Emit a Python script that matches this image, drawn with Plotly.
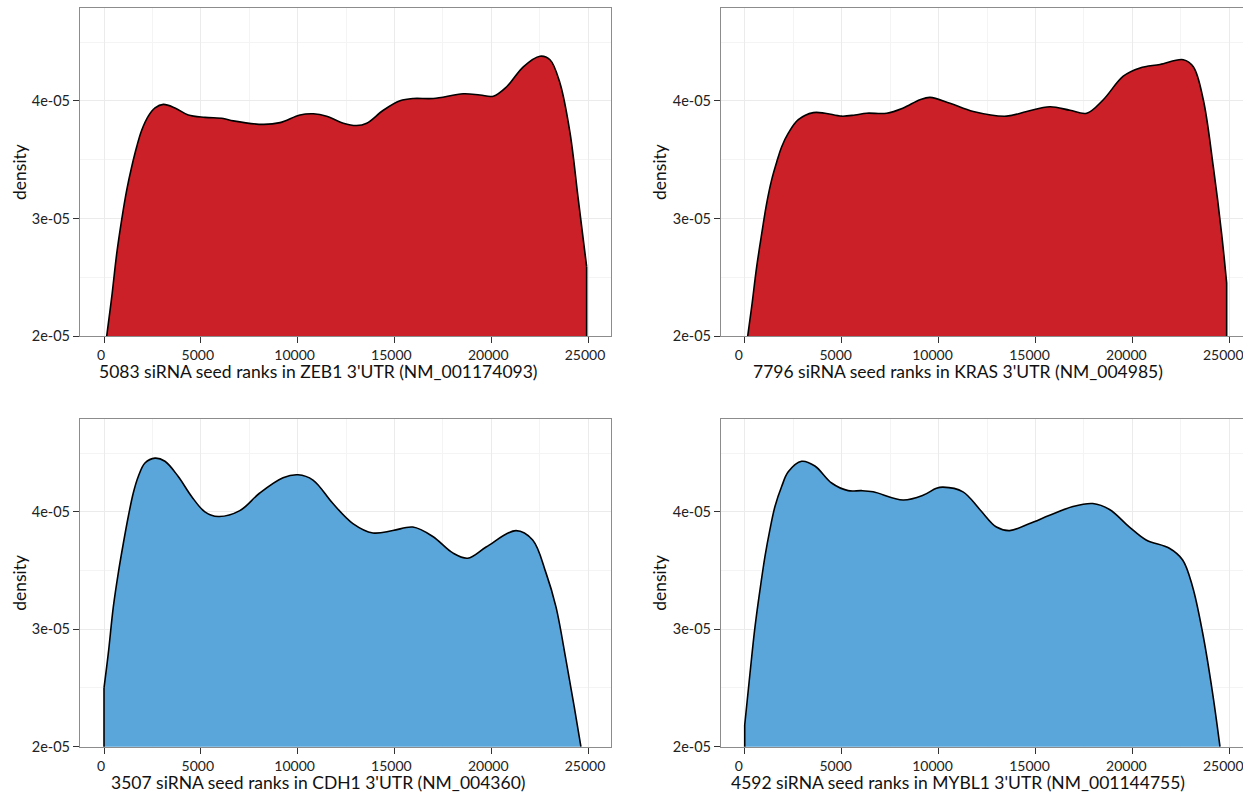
import plotly.graph_objects as go

# ---------------- data ----------------
zeb1_x = [139, 398, 656, 914, 1172, 1431, 1689, 1947, 2288, 2634, 3063, 3667, 4354, 5217, 6162, 6680,
          8230, 9091, 10124, 10812, 11502, 12363, 13051, 13568, 14428, 15289, 15977, 17009, 18560,
          19421, 20110, 20798, 21658, 22521, 23037, 23554, 24070, 24500, 24930]
zeb1_y = [2.00e-05, 2.33e-05, 2.70e-05, 2.99e-05, 3.24e-05, 3.44e-05, 3.61e-05, 3.75e-05, 3.87e-05,
          3.94e-05, 3.97e-05, 3.94e-05, 3.88e-05, 3.86e-05, 3.85e-05, 3.83e-05, 3.80e-05, 3.815e-05,
          3.88e-05, 3.89e-05, 3.87e-05, 3.81e-05, 3.79e-05, 3.81e-05, 3.92e-05, 4.00e-05, 4.02e-05,
          4.02e-05, 4.06e-05, 4.05e-05, 4.04e-05, 4.12e-05, 4.29e-05, 4.38e-05, 4.35e-05, 4.15e-05,
          3.73e-05, 3.16e-05, 2.59e-05]

kras_x = [155, 361, 619, 877, 1135, 1393, 1651, 1909, 2249, 2765, 3539, 4143, 5004, 5690, 6294, 7326,
          8182, 9044, 9560, 10591, 11793, 13517, 14548, 15750, 16782, 17643, 18499, 19530, 20393,
          21424, 22627, 23143, 23659, 24175, 24605, 24864]
kras_y = [2.00e-05, 2.25e-05, 2.59e-05, 2.87e-05, 3.13e-05, 3.33e-05, 3.48e-05, 3.61e-05, 3.725e-05,
          3.84e-05, 3.90e-05, 3.895e-05, 3.87e-05, 3.88e-05, 3.895e-05, 3.895e-05, 3.94e-05, 4.01e-05,
          4.03e-05, 3.98e-05, 3.91e-05, 3.87e-05, 3.91e-05, 3.95e-05, 3.92e-05, 3.895e-05, 4.01e-05,
          4.21e-05, 4.28e-05, 4.31e-05, 4.35e-05, 4.29e-05, 4.01e-05, 3.44e-05, 2.87e-05, 2.45e-05]

cdh1_x = [0, 223, 481, 739, 997, 1255, 1512, 1771, 2115, 2632, 3148, 3834, 4525, 5211, 5898, 7015,
          8046, 9248, 10024, 10795, 11826, 12857, 13889, 14920, 15952, 16983, 18014, 18787, 19737,
          21284, 22142, 22830, 23346, 23862, 24290, 24634]
cdh1_y = [2.50e-05, 2.796e-05, 3.19e-05, 3.48e-05, 3.73e-05, 3.96e-05, 4.16e-05, 4.30e-05, 4.415e-05,
          4.457e-05, 4.43e-05, 4.30e-05, 4.13e-05, 4.00e-05, 3.96e-05, 4.01e-05, 4.16e-05, 4.29e-05,
          4.315e-05, 4.27e-05, 4.07e-05, 3.90e-05, 3.82e-05, 3.84e-05, 3.87e-05, 3.79e-05, 3.65e-05,
          3.605e-05, 3.70e-05, 3.84e-05, 3.76e-05, 3.48e-05, 3.19e-05, 2.74e-05, 2.34e-05, 2.00e-05]

mybl1_x = [0, 273, 531, 788, 1046, 1303, 1561, 1906, 2246, 2936, 3621, 4482, 5337, 6027, 6625, 8170,
           9200, 9890, 10231, 11261, 12126, 12987, 13671, 14701, 15731, 16934, 17958, 18820, 19850,
           20710, 21908, 22594, 23109, 23624, 24140, 24520]
mybl1_y = [2.185e-05, 2.625e-05, 3.02e-05, 3.335e-05, 3.62e-05, 3.85e-05, 4.045e-05, 4.215e-05,
           4.34e-05, 4.43e-05, 4.39e-05, 4.245e-05, 4.18e-05, 4.18e-05, 4.17e-05, 4.10e-05, 4.14e-05,
           4.20e-05, 4.21e-05, 4.17e-05, 4.02e-05, 3.87e-05, 3.84e-05, 3.90e-05, 3.97e-05, 4.045e-05,
           4.07e-05, 4.02e-05, 3.87e-05, 3.76e-05, 3.69e-05, 3.59e-05, 3.36e-05, 2.97e-05, 2.455e-05,
           2.00e-05]

x_titles = ["5083 siRNA seed ranks in ZEB1 3'UTR (NM_001174093)",
            "7796 siRNA seed ranks in KRAS 3'UTR (NM_004985)",
            "3507 siRNA seed ranks in CDH1 3'UTR (NM_004360)",
            "4592 siRNA seed ranks in MYBL1 3'UTR (NM_001144755)"]
y_title = "density"

x_tickvals = [0, 5000, 10000, 15000, 20000, 25000]
x_ticktext = ["0", "5000", "10000", "15000", "20000", "25000"]
x_minorvals = [2500, 7500, 12500, 17500, 22500]
y_tickvals = [2e-05, 3e-05, 4e-05]
y_ticktext = ["2e-05", "3e-05", "4e-05"]
y_minorvals = [2.5e-05, 3.5e-05, 4.5e-05]

RED = "#CB2027"
BLUE = "#5AA6DB"

# ---------------- layout geometry ----------------
W, H = 1243, 795
FONT = "Lato"

panels = [
    dict(x=zeb1_x, y=zeb1_y, color=RED, xdom=[80 / W, 611 / W], ydom=[1 - 336 / H, 1 - 8 / H],
         xr=[-1240, 26188], right=True, tx=318, ty=371.5, yx=20, shift=-3),
    dict(x=kras_x, y=kras_y, color=RED, xdom=[721 / W, 1.0], ydom=[1 - 336 / H, 1 - 8 / H],
         xr=[-1223, 25707], right=False, tx=958, ty=371.5, yx=660, shift=-6),
    dict(x=cdh1_x, y=cdh1_y, color=BLUE, xdom=[80 / W, 611 / W], ydom=[1 - 746.7 / H, 1 - 419 / H],
         xr=[-1240, 26188], right=True, tx=318, ty=782, yx=20, shift=-3),
    dict(x=mybl1_x, y=mybl1_y, color=BLUE, xdom=[721 / W, 1.0], ydom=[1 - 746.7 / H, 1 - 419 / H],
         xr=[-1223, 25707], right=False, tx=958, ty=782, yx=660, shift=-6),
]

fig = go.Figure()
layout = dict(width=W, height=H, margin=dict(l=0, r=0, t=0, b=0, pad=0, autoexpand=False),
              paper_bgcolor="white", plot_bgcolor="white", showlegend=False,
              font=dict(family=FONT, color="#222"))
annotations = []

for i, p in enumerate(panels):
    n = "" if i == 0 else str(i + 1)
    xa, ya = "x" + n, "y" + n
    fig.add_trace(go.Scatter(x=p["x"], y=p["y"], xaxis=xa, yaxis=ya, mode="lines",
                             line=dict(color="black", width=1.6, shape="spline", smoothing=1.0),
                             fill="tozeroy", fillcolor=p["color"], hoverinfo="skip"))
    # vertical outline at both ends of the density polygon
    for k in (0, -1):
        fig.add_trace(go.Scatter(x=[p["x"][k], p["x"][k]], y=[0, p["y"][k]], xaxis=xa, yaxis=ya,
                                 mode="lines", line=dict(color="black", width=1.6), hoverinfo="skip"))
    layout["xaxis" + n] = dict(
        domain=p["xdom"], range=p["xr"], anchor=ya, automargin=False,
        tickmode="array", tickvals=x_tickvals, ticktext=x_ticktext, ticklabeloverflow="allow",
        ticklabelshift=p["shift"],
        ticks="outside", ticklen=6, tickwidth=1.3, tickcolor="#333",
        tickfont=dict(family=FONT, size=14, color="#222"),
        showgrid=True, gridcolor="#EBEBEB", gridwidth=1,
        minor=dict(tickmode="array", tickvals=x_minorvals, showgrid=True, gridcolor="#F4F4F4", gridwidth=1),
        showline=True, linecolor="#8C8C8C", linewidth=1.2, mirror=True, zeroline=False,
    )
    layout["yaxis" + n] = dict(
        domain=p["ydom"], range=[2e-05, 4.79e-05], anchor=xa, automargin=False,
        tickmode="array", tickvals=y_tickvals, ticktext=y_ticktext,
        ticks="outside", ticklen=6, tickwidth=1.3, tickcolor="#333",
        tickfont=dict(family=FONT, size=14.5, color="#222"),
        showgrid=True, gridcolor="#EBEBEB", gridwidth=1,
        minor=dict(tickmode="array", tickvals=y_minorvals, showgrid=True, gridcolor="#F4F4F4", gridwidth=1),
        showline=True, linecolor="#8C8C8C", linewidth=1.2, mirror=p["right"], zeroline=False,
    )
    annotations.append(dict(text=x_titles[i], x=p["tx"] / W, y=1 - p["ty"] / H, xref="paper", yref="paper",
                            xanchor="center", yanchor="middle", showarrow=False,
                            font=dict(family=FONT, size=17.5, color="#111")))
    annotations.append(dict(text=y_title, x=p["yx"] / W, y=(p["ydom"][0] + p["ydom"][1]) / 2,
                            xref="paper", yref="paper", xanchor="center", yanchor="middle",
                            textangle=-90, showarrow=False, font=dict(family=FONT, size=17.5, color="#111")))

layout["annotations"] = annotations
fig.update_layout(**layout)
fig.write_html("out.html", config={"displayModeBar": False},
               post_script="document.body.style.margin='0';document.body.style.overflow='hidden';")
